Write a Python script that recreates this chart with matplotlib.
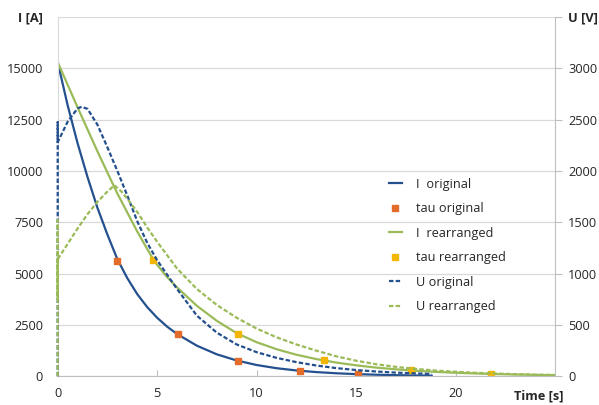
import matplotlib.pyplot as plt
from matplotlib.lines import Line2D

plt.rcParams["font.family"] = ["Open Sans", "DejaVu Sans"]

# current, original arrangement  (time [s], I [A])
t_i_orig = [0, 0.5, 1, 1.5, 2, 2.5, 3, 3.5, 4, 4.5, 5, 5.5, 6, 7, 8, 9, 10,
            11, 12, 13, 14, 15, 16, 17, 18, 18.8]
i_orig = [15300, 13200, 11350, 9700, 8200, 6900, 5700, 4780, 4000, 3370, 2850,
          2420, 2060, 1490, 1070, 770, 550, 395, 285, 205, 148, 106, 77, 56, 41, 32]

# time constants, original
t_tau_orig = [3.0, 6.05, 9.05, 12.2, 15.1]
tau_orig = [5600, 2060, 760, 280, 100]

# current, rearranged
t_i_rearr = [0, 1, 2, 3, 4, 4.5, 4.8, 5, 5.5, 6, 7, 8, 9, 10, 11, 12, 13, 14,
             15, 16, 17, 18, 19, 20, 21, 22, 23, 24, 25]
i_rearr = [15300, 13100, 10950, 8900, 7050, 6200, 5700, 5430, 4830, 4330, 3430,
           2700, 2100, 1660, 1320, 1050, 840, 670, 535, 425, 340, 270, 215, 172,
           137, 109, 87, 69, 55]

# time constants, rearranged
t_tau_rearr = [4.8, 9.05, 13.4, 17.75, 21.8]
tau_rearr = [5650, 2080, 770, 285, 105]

# voltage, original (U [V], right axis)
t_u_orig = [0, 0, 0, 0.5, 1, 1.2, 1.5, 2, 2.5, 3, 3.5, 4, 4.5, 5, 5.5, 6, 7, 8,
            9, 10, 11, 12, 13, 14, 15, 16, 17, 18, 18.8]
u_orig = [0, 2475, 2280, 2480, 2610, 2625, 2605, 2450, 2230, 2000, 1760, 1510,
          1300, 1130, 990, 850, 590, 425, 310, 235, 180, 138, 105, 80, 61, 47,
          36, 28, 23]

# voltage, rearranged
t_u_rearr = [0, 0, 0, 0, 0.5, 1, 1.5, 2, 2.5, 2.85, 3.2, 3.5, 4, 4.5, 5, 5.5, 6,
             7, 8, 9, 10, 11, 12, 13, 14, 15, 16, 17, 18, 19, 20, 21, 22, 23, 24, 25]
u_rearr = [0, 1520, 760, 1140, 1290, 1440, 1580, 1700, 1800, 1860, 1800, 1730,
           1600, 1450, 1310, 1180, 1050, 850, 695, 570, 465, 380, 310, 250, 195,
           152, 118, 92, 72, 56, 44, 34, 27, 21, 16, 13]

i_ticks = [0, 2500, 5000, 7500, 10000, 12500, 15000, 17500]
i_labels = ["0", "2500", "5000", "7500", "10000", "12500", "15000", "I [A]"]
u_ticks = [0, 500, 1000, 1500, 2000, 2500, 3000, 3500]
u_labels = ["0", "500", "1000", "1500", "2000", "2500", "3000", "U [V]"]
t_ticks = [0, 5, 10, 15, 20]

BLUE = "#24508F"
GREEN = "#9BBB59"
ORANGE = "#E36C2A"
GOLD = "#F2B705"
GRID = "#D9D9D9"
AXIS = "#BFBFBF"
TEXT = "#262626"
FS = 9.2

fig = plt.figure(figsize=(5.99, 4.05), dpi=100)
ax = fig.add_axes([57.7 / 599, 28.7 / 405, (555 - 57.7) / 599, (376.3 - 17) / 405])
ax2 = ax.twinx()

ax.plot(t_i_orig, i_orig, color=BLUE, lw=1.6)
ax.plot(t_tau_orig, tau_orig, ls="none", marker="s", ms=4, color=ORANGE)
ax.plot(t_i_rearr, i_rearr, color=GREEN, lw=1.6)
ax.plot(t_tau_rearr, tau_rearr, ls="none", marker="s", ms=4, color=GOLD)
ax2.plot(t_u_orig, u_orig, color=BLUE, lw=1.6, ls=(0, (2, 1)), clip_on=False)
ax2.plot(t_u_rearr, u_rearr, color=GREEN, lw=1.6, ls=(0, (2, 1)), clip_on=False)

ax.set_xlim(0, 25)
ax.set_ylim(0, 17500)
ax2.set_ylim(0, 3500)

ax.set_yticks(i_ticks)
ax.set_yticklabels(i_labels)
ax.get_yticklabels()[-1].set_fontweight("bold")
ax2.set_yticks(u_ticks)
ax2.set_yticklabels(u_labels)
ax2.get_yticklabels()[-1].set_fontweight("bold")
ax.set_xticks(t_ticks)
ax.set_xticklabels([str(v) for v in t_ticks])

ax.grid(axis="y", color=GRID, lw=0.9)
ax.set_axisbelow(True)

for s in ["top", "right"]:
    ax.spines[s].set_visible(False)
for s in ["top", "left", "bottom"]:
    ax2.spines[s].set_visible(False)
ax.spines["left"].set_color(GRID)
ax.spines["bottom"].set_color(AXIS)
ax2.spines["right"].set_color(AXIS)

ax.tick_params(axis="y", length=0, pad=10.5, labelsize=FS, labelcolor=TEXT)
ax.tick_params(axis="x", direction="in", length=4, color=AXIS, pad=8,
               labelsize=FS, labelcolor=TEXT)
ax2.tick_params(axis="y", direction="out", length=5, color=AXIS, pad=4.5,
                labelsize=FS, labelcolor=TEXT)

ax.annotate("Time [s]", xy=(25, 0), xycoords="data", xytext=(6, -14),
            textcoords="offset points", ha="right", va="center",
            fontsize=FS, fontweight="bold", color=TEXT, annotation_clip=False)

handles = [
    Line2D([], [], color=BLUE, lw=1.6),
    Line2D([], [], ls="none", marker="s", ms=4, color=ORANGE),
    Line2D([], [], color=GREEN, lw=1.6),
    Line2D([], [], ls="none", marker="s", ms=4, color=GOLD),
    Line2D([], [], color=BLUE, lw=1.6, ls=(0, (2, 1))),
    Line2D([], [], color=GREEN, lw=1.6, ls=(0, (2, 1))),
]
names = ["I  original", "tau original", "I  rearranged", "tau rearranged",
         "U original", "U rearranged"]
leg = ax2.legend(handles, names, loc="center left",
                 bbox_to_anchor=(383 / 599, 1 - 245.5 / 405),
                 bbox_transform=fig.transFigure, frameon=False, borderpad=0,
                 handlelength=0.95, handletextpad=1.1, labelspacing=0.9,
                 fontsize=FS)
for txt in leg.get_texts():
    txt.set_color(TEXT)

fig.savefig("out.png", dpi=100)
